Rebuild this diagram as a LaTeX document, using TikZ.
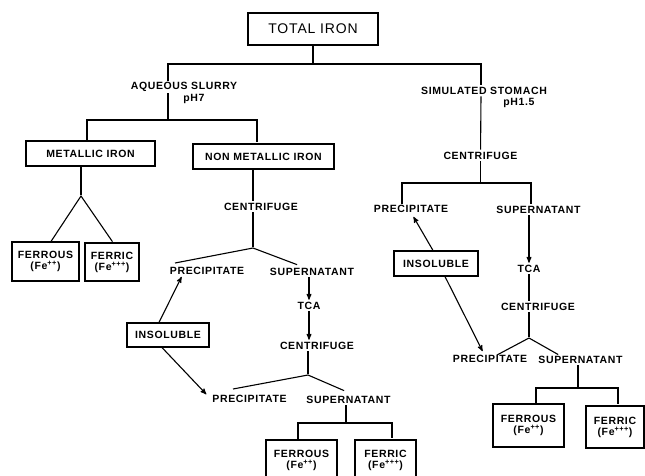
\documentclass[tikz,border=0pt]{standalone}
\usepackage{fontspec}
\setmainfont{Liberation Sans}[LetterSpace=6]
\usetikzlibrary{arrows}
\newcommand{\lbl}{\fontsize{10.5}{11}\selectfont\bfseries}
\newcommand{\ttl}{\fontsize{14}{15}\selectfont}
\tikzstyle{bx} = [rectangle, draw, inner sep=0pt, align=center, font=\lbl]
\tikzstyle{lb} = [inner sep=1pt, font=\lbl]

\begin{document}
\begin{tikzpicture}[>=stealth', x=1pt, y=-1pt, line width=1.1pt, shorten >=1pt]
  \useasboundingbox (0,0) rectangle (645,475);
  \clip (0,0) rectangle (645,475);

  \node[bx, minimum width=130pt, minimum height=32pt, font=\ttl] (total) at (313,29) {TOTAL IRON};
  \node[lb] (aq)   at (184,87)  {AQUEOUS SLURRY};
  \node[lb] (ph7)  at (194,99)  {pH7};
  \node[lb] (sim)  at (484,91)  {SIMULATED STOMACH};
  \node[lb] (ph15) at (519,103) {pH1.5};
  \coordinate (tj) at (313,64);
  \draw (total) -- (tj);
  \draw (aq.north -| 168,0) |- (tj) -| (sim.north -| 481,0);

  \node[bx, minimum width=129pt, minimum height=25pt] (metal)    at (90.5,153.5)  {METALLIC IRON};
  \node[bx, minimum width=141pt, minimum height=25pt] (nonmetal) at (263.5,156.5) {NON METALLIC IRON};
  \coordinate (aqj) at (168,120);
  \draw (aq.south -| 168,0) -- (aqj);
  \draw (metal.north -| 87,0) |- (aqj) -| (nonmetal.north -| 257,0);

  \node[bx, minimum width=67pt, minimum height=39pt] (fe2a) at (45.5,261.5) {FERROUS\\(Fe\textsuperscript{++})};
  \node[bx, minimum width=54pt, minimum height=38pt] (fe3a) at (112,262)   {FERRIC\\(Fe\textsuperscript{+++})};
  \coordinate (mj) at (81,196);
  \draw (metal.south -| 81,0) -- (mj);
  \draw (fe2a.north -| 51,0) -- (mj) -- (fe3a.north -| 113,0);

  \node[lb] (cen1)  at (261,207) {CENTRIFUGE};
  \node[lb] (prec1) at (207,271) {PRECIPITATE};
  \node[lb] (sup1)  at (312,272) {SUPERNATANT};
  \coordinate (c1j) at (253,248);
  \coordinate (p1e) at (175,263);
  \coordinate (s1e) at (298,265);
  \draw (nonmetal.south -| 253,0) -- (cen1.north -| 253,0);
  \draw (cen1.south -| 253,0) -- (c1j);
  \draw (p1e) -- (c1j) -- (s1e);

  \node[lb] (tca1) at (309,306) {TCA};
  \node[lb] (cen2) at (317,346) {CENTRIFUGE};
  \draw[->] (sup1.south -| 309,0) -- (tca1);
  \draw[->] (tca1) -- (cen2.north -| 309,0);

  \node[lb] (prec2) at (249.5,399) {PRECIPITATE};
  \node[lb] (sup2)  at (348.5,400) {SUPERNATANT};
  \coordinate (c2j) at (308,375);
  \coordinate (p2e) at (233,389);
  \coordinate (s2e) at (345,391);
  \draw (cen2.south -| 308,0) -- (c2j);
  \draw (p2e) -- (c2j) -- (s2e);

  \node[bx, minimum width=71pt, minimum height=40pt] (fe2b) at (301.5,460) {FERROUS\\(Fe\textsuperscript{++})};
  \node[bx, minimum width=61pt, minimum height=40pt] (fe3b) at (385.5,460) {FERRIC\\(Fe\textsuperscript{+++})};
  \coordinate (s2j) at (346,423);
  \draw (sup2.south -| 346,0) -- (s2j);
  \draw (fe2b.north -| 298,0) |- (s2j) -| (fe3b.north -| 392,0);

  \node[bx, minimum width=82pt, minimum height=24pt] (ins1) at (168,335) {INSOLUBLE};
  \coordinate (p1a) at (182,276);
  \coordinate (p2a) at (207,395);
  \draw[->] (ins1.north -| 159,0) -- (p1a);
  \draw[->] (ins1.south -| 162,0) -- (p2a);

  \node[lb] (cen3)  at (480.5,156) {CENTRIFUGE};
  \node[lb] (prec3) at (411,209)   {PRECIPITATE};
  \node[lb] (sup3)  at (538.5,210) {SUPERNATANT};
  \coordinate (c3j) at (480.5,183);
  \draw (sim.south -| 481,0) -- (cen3);
  \draw (cen3) -- (c3j);
  \draw (prec3.north -| 402,0) |- (c3j) -| (sup3.north -| 531,0);

  \node[lb] (tca2) at (529,269) {TCA};
  \node[lb] (cen4) at (538,307) {CENTRIFUGE};
  \draw[->] (sup3.south -| 529,0) -- (tca2);
  \draw (tca2) -- (cen4.north -| 529,0);

  \node[lb] (prec4) at (490,359)   {PRECIPITATE};
  \node[lb] (sup4)  at (580.5,360) {SUPERNATANT};
  \coordinate (c4j) at (529,338);
  \coordinate (p4e) at (497,355);
  \coordinate (s4e) at (559,355);
  \draw (cen4.south -| 529,0) -- (c4j);
  \draw (p4e) -- (c4j) -- (s4e);

  \node[bx, minimum width=71pt, minimum height=43pt] (fe2c) at (528.5,425.5) {FERROUS\\(Fe\textsuperscript{++})};
  \node[bx, minimum width=58pt, minimum height=42pt] (fe3c) at (615,427)     {FERRIC\\(Fe\textsuperscript{+++})};
  \coordinate (s4j) at (578,388);
  \draw (sup4.south -| 578,0) -- (s4j);
  \draw (fe2c.north -| 536,0) |- (s4j) -| (fe3c.north -| 618,0);

  \node[bx, minimum width=84pt, minimum height=25pt] (ins2) at (436,263.5) {INSOLUBLE};
  \coordinate (p3a) at (413,216);
  \coordinate (p4a) at (483,352);
  \draw[->] (ins2.north -| 433,0) -- (p3a);
  \draw[->] (ins2.south -| 445,0) -- (p4a);
\end{tikzpicture}
\end{document}
